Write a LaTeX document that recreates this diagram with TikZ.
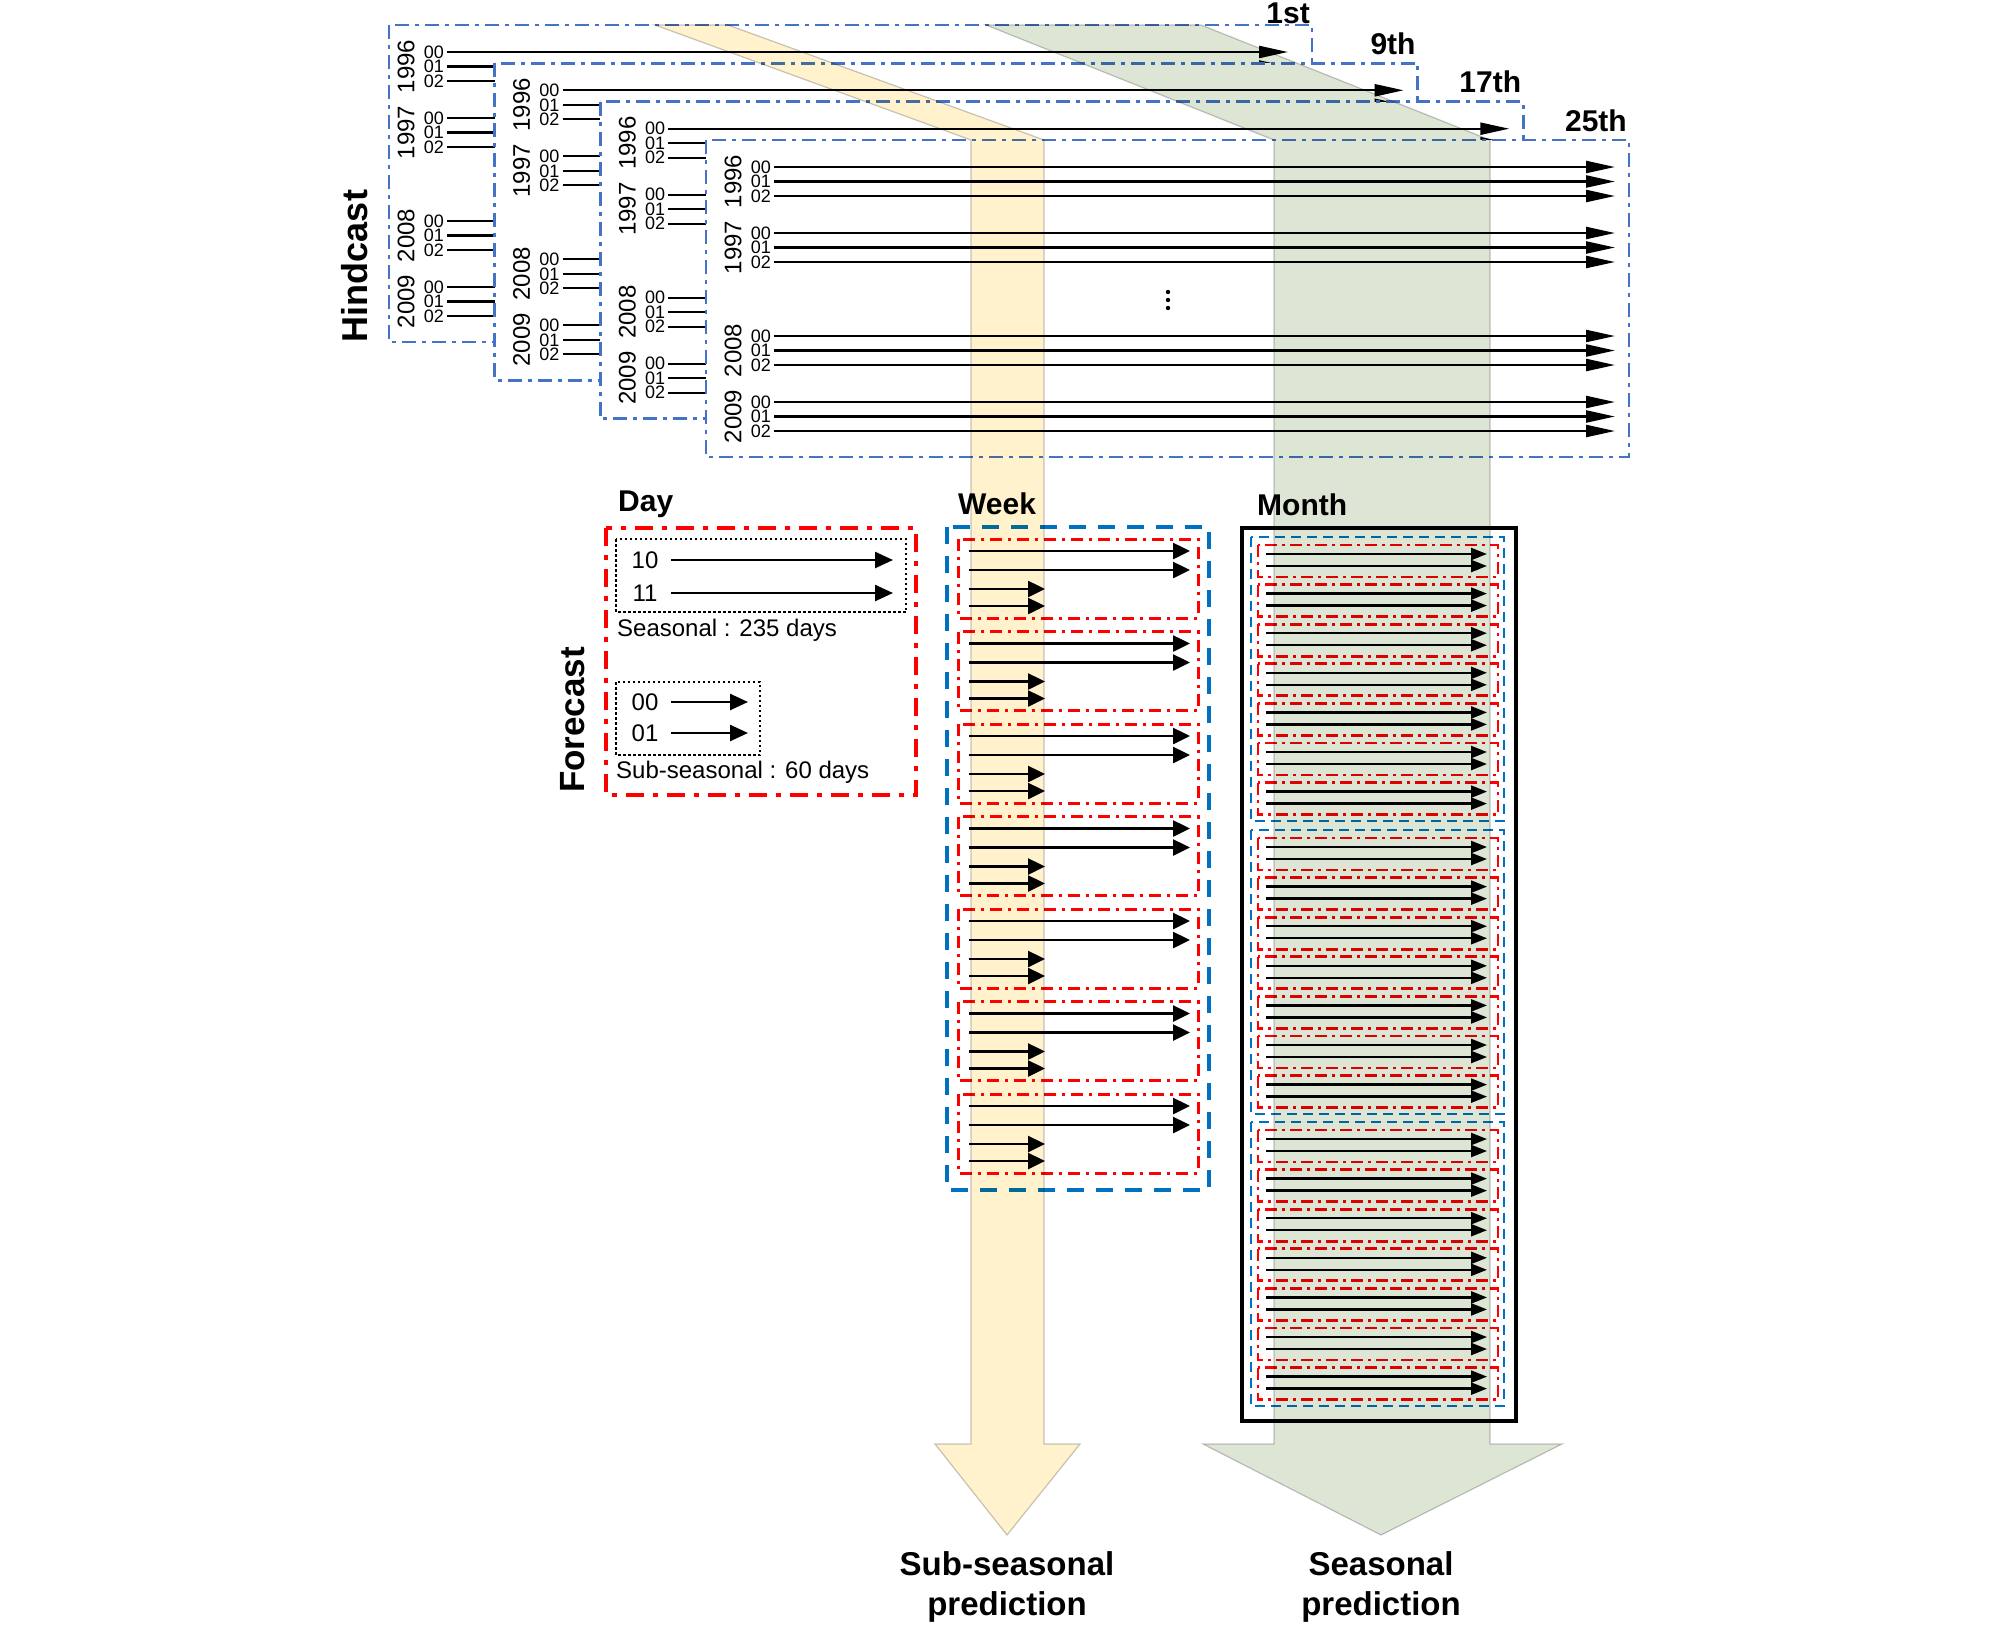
\documentclass[tikz,border=0pt]{standalone}
\usepackage{fontspec}
\setmainfont{Liberation Sans}
\usetikzlibrary{arrows.meta}
\definecolor{hblue}{HTML}{4472C4}
\definecolor{wblue}{HTML}{0070C0}
\definecolor{ylw}{HTML}{FFF2CC}
\definecolor{grn}{HTML}{DDE5D5}
\definecolor{bandedge}{HTML}{C8C8C8}
\newcommand{\fsz}[1]{\fontsize{#1}{#1}\selectfont}
\begin{document}
\begin{tikzpicture}[x=1pt,y=-1pt,
  hbox/.style={draw=hblue,fill=white,line width=2.5pt,dash pattern=on 14pt off 6pt on 4pt off 6pt},
  harr/.style={line width=2.3pt,-{Triangle[length=29pt,width=12pt]}},
  codelbl/.style={inner sep=0pt,font=\fsz{18}},
  yrlbl/.style={inner sep=0pt,font=\fsz{24},rotate=90},
  ordlbl/.style={inner sep=0pt,font=\fsz{30}\bfseries},
  titlelbl/.style={inner sep=0pt,font=\fsz{30}\bfseries},
  sidelbl/.style={inner sep=0pt,font=\fsz{36}\bfseries,rotate=90},
  dayred/.style={draw=red,line width=4pt,dash pattern=on 18pt off 9pt on 5pt off 9pt},
  dotbox/.style={draw=black,line width=2.5pt,dash pattern=on 2.5pt off 2.5pt},
  dayarr/.style={line width=2.5pt,-{Triangle[length=18pt,width=16pt]}},
  daylbl/.style={inner sep=0pt,font=\fsz{24}},
  wkblue/.style={draw=wblue,line width=4pt,dash pattern=on 17pt off 12pt},
  wkred/.style={draw=red,line width=3pt,dash pattern=on 12pt off 6pt on 3pt off 6pt},
  wkarr/.style={line width=2.5pt,-{Triangle[length=17pt,width=16pt]}},
  mblue/.style={draw=wblue,line width=2.5pt,dash pattern=on 10pt off 6pt},
  mred/.style={draw=red,line width=2.7pt,dash pattern=on 12pt off 5pt on 3pt off 5pt},
  marr/.style={line width=2.3pt,-{Triangle[length=16pt,width=12pt]}},
  band/.style={draw=bandedge,line width=1.2pt},
  predlbl/.style={inner sep=0pt,font=\fontsize{33}{40}\selectfont\bfseries,align=center},
]
\useasboundingbox (0,0) rectangle (2008,1626);

% ---------------- Hindcast boxes ----------------
\foreach \kk/\lx/\ty/\dd/\lab/\oy in {0/389/25/-10/1st/-2, 1/494.7/63.3/0/9th/-9, 2/600.3/101.7/0/17th/-9, 3/706/140/0/25th/-9} {
  \draw[hbox] (\lx,\ty) rectangle ({\lx+923},{\ty+317});
  \node[ordlbl,anchor=base east] (ord\kk) at ({\lx+921},{\ty+(\oy)}) {\lab};
  \foreach \yr/\bb [count=\ii] in {1996/27, 1997/93, 2008/196, 2009/262} {
    \node[yrlbl] (yr\kk-\ii) at ({\lx+27+(\dd)},{\ty+\bb+14.5}) {\yr};
    \foreach \cc/\oo in {00/0, 01/14.5, 02/29} {
      \node[codelbl,anchor=east] (cd\kk-\ii-\cc) at ({\lx+65+(\dd)},{\ty+\bb+\oo}) {\cc};
      \draw[harr] ({\lx+68+(\dd)},{\ty+\bb+\oo}) -- ({\lx+909+(\dd)},{\ty+\bb+\oo});
    }
  }
}
\foreach \yy in {292,300,308} \fill (1168,\yy) circle (2.2pt);
\node[sidelbl] (hind) at (355,266) {Hindcast};

% ---------------- Forecast : Day ----------------
\node[titlelbl,anchor=base west] (day) at (618,511) {Day};
\node[sidelbl,font=\fsz{35}\bfseries] (fore) at (573,720) {Forecast};
\draw[dayred] (606,528) rectangle (916,795);
\draw[dotbox] (616,539) rectangle (906,612);
\node[daylbl] (d10) at (645,560) {10};
\node[daylbl] (d11) at (645,593) {11};
\draw[dayarr] (671,560) -- (893,560);
\draw[dayarr] (671,593) -- (893,593);
\node[daylbl,anchor=west] (seas) at (617,630) {Seasonal : 235 days};
\draw[dotbox] (616,682) rectangle (760,755);
\node[daylbl] (d00) at (645,702) {00};
\node[daylbl] (d01) at (645,733) {01};
\draw[dayarr] (671,702) -- (748,702);
\draw[dayarr] (671,733) -- (748,733);
\node[daylbl,anchor=west] (subs) at (616,772) {Sub-seasonal : 60 days};

% ---------------- Week ----------------
\node[titlelbl,anchor=base west] (week) at (958,514) {Week};
\draw[wkblue] (947,527) rectangle (1209,1190);
\foreach \ii in {0,...,6} {
  \pgfmathsetmacro\tp{539+92.5*\ii}
  \draw[wkred] (958,\tp) rectangle (1198,\tp+79);
  \draw[wkarr] (969,\tp+12) -- (1190,\tp+12);
  \draw[wkarr] (969,\tp+31) -- (1190,\tp+31);
  \draw[wkarr] (969,\tp+50) -- (1045,\tp+50);
  \draw[wkarr] (969,\tp+67) -- (1045,\tp+67);
}

% ---------------- Month ----------------
\node[titlelbl,anchor=base west] (month) at (1257,515) {Month};
\draw[line width=4pt] (1242,528) rectangle (1516,1421);
\foreach \gt in {537,830,1122} {
  \draw[mblue] (1251,\gt) rectangle (1504,\gt+284);
  \foreach \jj in {0,...,6} {
    \pgfmathsetmacro\rr{\gt+8+39.6*\jj}
    \draw[mred] (1258,\rr) rectangle (1498,\rr+32);
    \draw[marr] (1266,\rr+9) -- (1487,\rr+9);
    \draw[marr] (1266,\rr+21) -- (1487,\rr+21);
  }
}

% ---------------- Bands ----------------
\begin{scope}[blend mode=multiply]
\filldraw[band,fill=ylw] (655,25) -- (728,25) -- (1044,140) -- (1044,1444) -- (1080,1444)
  -- (1007,1535) -- (935,1444) -- (971,1444) -- (971,140) -- cycle;
\filldraw[band,fill=grn] (986,25) -- (1201,25) -- (1490,140) -- (1490,1444) -- (1562,1444)
  -- (1381,1535) -- (1203,1444) -- (1274,1444) -- (1274,140) -- cycle;
\end{scope}

\node[predlbl,anchor=north] (subpred) at (1007,1551) {Sub-seasonal\\prediction};
\node[predlbl,anchor=north] (seapred) at (1381,1551) {Seasonal\\prediction};
\end{tikzpicture}
\end{document}
